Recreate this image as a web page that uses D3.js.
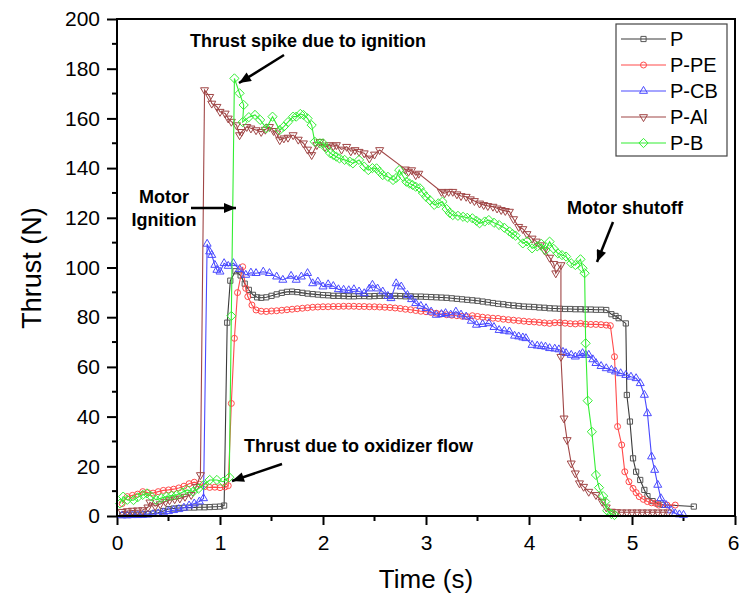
<!DOCTYPE html>
<html><head><meta charset="utf-8">
<script src="https://cdn.jsdelivr.net/npm/d3@7"></script>
<style>body{margin:0;background:#fff}svg{display:block}</style>
</head><body>
<script>
// ---------------- data ----------------
const seriesNames = ["P", "P-PE", "P-CB", "P-Al", "P-B"];

const P = [[0.05,0.4],[0.1,0.4],[0.15,0.5],[0.2,0.5],[0.25,0.6],[0.3,0.8],[0.35,1.0],[0.4,1.3],[0.45,2.0],[0.5,2.8],[0.55,3.0],[0.6,3.2],[0.65,3.3],[0.7,3.4],[0.75,3.4],[0.8,3.5],[0.85,3.5],[0.9,3.6],[0.95,3.7],[1.0,3.8],[1.04,4.2],[1.07,77.8],[1.1,94.7],[1.15,98.5],[1.2,96.8],[1.24,93.5],[1.28,91],[1.32,89],[1.36,88],[1.4,87.8],[1.45,88],[1.5,88.6],[1.55,89.2],[1.6,89.8],[1.65,90.2],[1.7,90.3],[1.75,90.1],[1.8,89.8],[1.85,89.5],[1.9,89.3],[1.95,89.1],[2.0,88.9],[2.05,88.8],[2.1,88.6],[2.15,88.6],[2.2,88.5],[2.25,88.4],[2.3,88.4],[2.35,88.5],[2.4,88.5],[2.45,88.4],[2.5,88.5],[2.55,88.6],[2.6,88.6],[2.65,88.5],[2.7,88.6],[2.75,88.5],[2.8,88.4],[2.85,88.4],[2.9,88.3],[2.95,88.3],[3.0,88.2],[3.05,88.1],[3.1,88.0],[3.15,87.9],[3.2,87.8],[3.25,87.6],[3.3,87.4],[3.35,87.2],[3.4,87.0],[3.45,86.8],[3.5,86.6],[3.55,86.3],[3.6,86.0],[3.65,85.7],[3.7,85.4],[3.75,85.2],[3.8,84.9],[3.85,84.7],[3.9,84.5],[3.95,84.3],[4.0,84.2],[4.05,84.1],[4.1,83.9],[4.15,83.8],[4.2,83.6],[4.25,83.5],[4.3,83.4],[4.35,83.3],[4.4,83.3],[4.45,83.2],[4.5,83.2],[4.55,83.1],[4.6,83.1],[4.65,83.0],[4.7,83.0],[4.75,82.9],[4.8,81.2],[4.84,80.5],[4.87,79.6],[4.94,77.5],[4.95,48.7],[4.98,38],[5.01,23.2],[5.04,17.8],[5.08,14.5],[5.12,10.5],[5.15,8],[5.2,6],[5.25,5],[5.3,4.5],[5.6,3.8]];

const P_PE = [[0.05,5],[0.1,7.8],[0.15,8.3],[0.2,8.8],[0.25,9.8],[0.3,9.4],[0.35,9.2],[0.4,9.8],[0.45,10.3],[0.5,10.5],[0.55,10.8],[0.6,11.3],[0.65,12],[0.7,13],[0.75,13.6],[0.8,12.8],[0.85,11.8],[0.9,11.5],[0.95,11.6],[1.0,11.4],[1.05,11.7],[1.08,12.2],[1.11,45.3],[1.14,71.5],[1.17,89.9],[1.22,100.3],[1.25,91.6],[1.27,88.3],[1.31,84.9],[1.35,82.9],[1.4,82.4],[1.45,82.3],[1.5,82.5],[1.55,82.6],[1.6,82.8],[1.65,83],[1.7,83.2],[1.75,83.4],[1.8,83.6],[1.85,83.8],[1.9,84],[1.95,84.1],[2.0,84.2],[2.05,84.2],[2.1,84.3],[2.15,84.3],[2.2,84.4],[2.25,84.4],[2.3,84.4],[2.35,84.3],[2.4,84.3],[2.45,84.2],[2.5,84.2],[2.55,84.1],[2.6,84.0],[2.65,83.9],[2.7,83.7],[2.75,83.5],[2.8,83.2],[2.85,83.0],[2.9,82.7],[2.95,82.4],[3.0,82.2],[3.05,81.9],[3.1,81.6],[3.15,81.3],[3.2,81.0],[3.25,80.8],[3.3,80.6],[3.35,80.4],[3.4,80.2],[3.45,80.6],[3.5,80.3],[3.55,80.0],[3.6,79.8],[3.65,79.6],[3.7,79.5],[3.75,79.2],[3.8,79.0],[3.85,78.8],[3.9,78.6],[3.95,78.4],[4.0,78.2],[4.05,78.1],[4.1,77.9],[4.15,77.7],[4.2,77.5],[4.25,77.8],[4.3,77.8],[4.35,77.6],[4.4,77.4],[4.45,77.3],[4.5,77.5],[4.55,77.2],[4.6,77.1],[4.65,77.1],[4.7,77.0],[4.75,76.8],[4.79,76.6],[4.83,64.1],[4.86,36],[4.9,28.6],[4.93,17.8],[4.97,13.8],[5.01,11.1],[5.04,9.4],[5.07,7.8],[5.11,6.7],[5.15,5.8],[5.19,5.3],[5.23,5.1],[5.26,4.4],[5.34,4.4],[5.42,4.4]];

const P_CB = [[0.05,0.2],[0.1,0.2],[0.15,0.3],[0.2,0.3],[0.25,0.4],[0.3,0.5],[0.35,0.7],[0.4,1.0],[0.45,1.4],[0.5,1.9],[0.55,2.3],[0.6,2.7],[0.65,3.3],[0.7,4.2],[0.75,5.0],[0.8,5.8],[0.84,7.1],[0.875,109.5],[0.9,106.4],[0.92,105],[0.95,101],[0.97,99],[1.0,98.3],[1.04,101.7],[1.08,100.6],[1.13,101.7],[1.19,99.3],[1.25,97],[1.3,97.9],[1.35,97.7],[1.42,98.3],[1.48,97.7],[1.55,96.3],[1.61,95],[1.69,96.6],[1.74,95],[1.79,96.3],[1.85,97.7],[1.9,93.6],[1.95,94.3],[2.0,92.3],[2.05,93.2],[2.1,92.5],[2.15,91.2],[2.2,91],[2.25,90.8],[2.3,91.2],[2.35,90.3],[2.4,89.6],[2.45,91.5],[2.48,93],[2.53,91.5],[2.58,90.3],[2.63,88.5],[2.66,87.6],[2.71,93.6],[2.76,92.3],[2.82,88.9],[2.86,87.2],[2.9,85.6],[2.95,84.5],[3.0,83.6],[3.05,82.2],[3.1,80.9],[3.15,81.2],[3.19,81.6],[3.24,81.0],[3.29,82.2],[3.34,81.0],[3.39,80.2],[3.44,78.5],[3.49,76.9],[3.55,77.2],[3.61,77.5],[3.66,76.0],[3.71,74.8],[3.76,74.5],[3.81,74.2],[3.86,72.5],[3.9,72.2],[3.94,71.8],[3.97,71.5],[4.03,68.8],[4.08,68.5],[4.12,68.3],[4.16,68.1],[4.2,67.5],[4.25,67.3],[4.29,67.0],[4.33,66.0],[4.36,65.5],[4.41,64.8],[4.45,64.1],[4.49,64.8],[4.52,65.5],[4.55,64.8],[4.58,64.8],[4.62,63],[4.65,61.5],[4.7,60.3],[4.75,59.4],[4.8,58.8],[4.84,58.1],[4.89,57.4],[4.94,56.7],[4.99,56.0],[5.04,55.4],[5.08,53.4],[5.12,48.7],[5.15,41.3],[5.19,23.9],[5.22,18.5],[5.25,12.5],[5.28,7.1],[5.33,4.4],[5.38,2.2],[5.42,1.0],[5.46,0.6],[5.5,0.4]];

const P_Al = [[0.05,1.7],[0.1,2.0],[0.15,2.2],[0.2,2.3],[0.25,2.4],[0.3,3.5],[0.32,5.5],[0.37,4.0],[0.42,4.8],[0.47,5.8],[0.51,6.4],[0.56,6.8],[0.61,7.1],[0.66,7.8],[0.72,8.5],[0.77,11.8],[0.81,16.5],[0.85,171.4],[0.9,168.7],[0.92,166],[0.97,164.7],[1.0,162.7],[1.05,162],[1.08,160],[1.11,158.7],[1.16,157.3],[1.19,153.3],[1.21,154.6],[1.26,156.6],[1.3,156],[1.35,155.3],[1.4,154.6],[1.44,155.5],[1.48,156.6],[1.52,155],[1.55,154],[1.58,151.3],[1.62,152],[1.66,152.3],[1.71,153.3],[1.76,151.5],[1.81,150],[1.85,147.5],[1.89,145.3],[1.94,149.3],[1.97,150.6],[2.02,148.5],[2.06,149.3],[2.1,148.8],[2.13,149.3],[2.18,147.5],[2.23,148.6],[2.27,146.8],[2.31,147.3],[2.35,146.6],[2.4,146],[2.45,143.9],[2.5,145.5],[2.55,147.3],[2.8,139.5],[2.83,138.6],[2.86,139.2],[2.9,137.2],[2.93,137.8],[3.15,130.5],[3.18,129.9],[3.22,130.5],[3.26,130.5],[3.3,129.5],[3.34,128.8],[3.39,128.5],[3.43,127.5],[3.47,126.8],[3.52,125.8],[3.56,125.2],[3.6,124.8],[3.65,124.5],[3.69,123.8],[3.73,123.2],[3.77,122.8],[3.81,122.5],[3.85,119.5],[3.9,116.4],[3.94,115.5],[3.98,113.5],[4.03,111.7],[4.07,110.5],[4.11,109],[4.15,107],[4.2,104],[4.24,101.5],[4.26,97.7],[4.31,101],[4.31,64.1],[4.34,39.3],[4.37,30.6],[4.41,21.2],[4.45,17.2],[4.49,13.2],[4.53,11.8],[4.58,9.8],[4.65,8.5],[4.71,5.8],[4.75,3.5],[4.8,1.8],[4.85,1.6],[4.9,1.5],[4.95,1.5],[5.0,1.5],[5.05,1.5],[5.1,1.5],[5.15,1.5],[5.2,1.5],[5.25,1.5],[5.3,1.5],[5.35,1.5]];

const P_B = [[0.03,5],[0.06,7.8],[0.1,6.5],[0.16,6.4],[0.2,7.5],[0.25,8.5],[0.29,9.1],[0.33,8.0],[0.38,6.5],[0.43,7.2],[0.48,7.8],[0.53,8.2],[0.58,8.5],[0.63,9.5],[0.68,10.5],[0.74,9.8],[0.79,11],[0.84,12.5],[0.9,14.5],[0.97,14.5],[1.03,13.8],[1.09,15.6],[1.11,80.5],[1.14,176.1],[1.19,170.1],[1.23,165.4],[1.22,158.5],[1.28,160.5],[1.34,161.4],[1.39,159.4],[1.45,156],[1.51,160.7],[1.58,155.3],[1.62,156.7],[1.66,158.5],[1.71,160.7],[1.74,160.7],[1.78,161.8],[1.81,161.4],[1.85,160],[1.89,157.3],[1.92,150.6],[1.97,150],[2.0,150],[2.03,148],[2.07,146],[2.1,145.3],[2.13,144.6],[2.16,143.9],[2.21,143.3],[2.26,142.6],[2.29,141.9],[2.35,143.3],[2.4,140.6],[2.44,139.2],[2.48,140],[2.52,139.9],[2.55,138.5],[2.58,137.2],[2.63,136.5],[2.68,135.2],[2.71,136],[2.74,139.2],[2.78,136.5],[2.81,134.5],[2.84,133.8],[2.87,133.2],[2.9,132.5],[2.94,131.9],[2.97,130],[3.0,128.5],[3.04,127],[3.08,125.2],[3.12,125.8],[3.16,126.5],[3.2,123.5],[3.23,122],[3.26,121.1],[3.31,120.8],[3.36,120.4],[3.4,120],[3.45,119.8],[3.49,118.8],[3.52,117.8],[3.57,118.5],[3.61,119.1],[3.66,118],[3.71,117.1],[3.76,116],[3.81,114.5],[3.84,113.5],[3.87,112.8],[3.94,109.7],[3.98,110.5],[4.03,107.7],[4.08,108.5],[4.12,109.5],[4.16,107],[4.2,110.4],[4.24,107.5],[4.28,105.7],[4.32,105],[4.36,104.4],[4.41,101.7],[4.45,101],[4.5,103.3],[4.52,99.7],[4.54,97.7],[4.55,69.5],[4.57,46.4],[4.61,33.9],[4.65,16.5],[4.68,11.4],[4.72,8],[4.74,5.8],[4.76,2.1],[4.8,0.8],[4.83,0.4]];

const xTickValues = [0, 1, 2, 3, 4, 5, 6];
const yTickValues = [0, 20, 40, 60, 80, 100, 120, 140, 160, 180, 200];
const xLabel = "Time (s)";
const yLabel = "Thrust (N)";
const noteTexts = ["Thrust spike due to ignition", "Motor", "Ignition", "Motor shutoff", "Thrust due to oxidizer flow"];

// ---------------- drawing ----------------
const W = 739, H = 599;
const L = 117, R = 735, T = 19, B = 516;
const svg = d3.select("body").append("svg").attr("width", W).attr("height", H)
  .style("font-family", "'Liberation Sans', Arial, sans-serif");

const x = d3.scaleLinear().domain([0, 6]).range([L, R]);
const y = d3.scaleLinear().domain([0, 200]).range([B, T]);

const series = [
  {name: seriesNames[0], data: P,    color: "#3a3a3a", mcolor: "#555", sym: "square"},
  {name: seriesNames[1], data: P_PE, color: "#ff4a4a", mcolor: "#ff4a4a", sym: "circle"},
  {name: seriesNames[2], data: P_CB, color: "#4a4aff", mcolor: "#4a4aff", sym: "triangle"},
  {name: seriesNames[3], data: P_Al, color: "#a04646", mcolor: "#a04646", sym: "tridown"},
  {name: seriesNames[4], data: P_B,  color: "#33ee33", mcolor: "#33ee33", sym: "diamond"}
];

const symPath = {
  square: "M-2.6,-2.6H2.6V2.6H-2.6Z",
  triangle: "M0,-4.6L4,2.3L-4,2.3Z",
  tridown: "M0,4.6L4,-2.3L-4,-2.3Z",
  diamond: "M0,-4.6L4.6,0L0,4.6L-4.6,0Z"
};
function drawMarker(g, sym, cx, cy, color) {
  if (sym === "circle") {
    g.append("circle").attr("cx", cx).attr("cy", cy).attr("r", 3)
      .attr("fill", "none").attr("stroke", color).attr("stroke-width", 1);
  } else {
    g.append("path").attr("d", symPath[sym]).attr("transform", `translate(${cx},${cy})`)
      .attr("fill", "none").attr("stroke", color).attr("stroke-width", 1);
  }
}

// axes
const yAxis = d3.axisLeft(y).tickValues(yTickValues).tickSize(10).tickPadding(7).tickSizeOuter(0);
const gy = svg.append("g").attr("transform", `translate(${L},0)`).call(yAxis);
const xAxis = d3.axisBottom(x).tickValues(xTickValues).tickSize(9).tickPadding(10).tickSizeOuter(0).tickFormat(d3.format("d"));
const gx = svg.append("g").attr("transform", `translate(0,${B})`).call(xAxis);
[gx, gy].forEach(g => {
  g.select(".domain").remove();
  g.selectAll(".tick line").attr("stroke", "#000").attr("stroke-width", 2);
  g.selectAll(".tick text").attr("fill", "#000").style("font-size", "21px")
   .style("font-family", "'Liberation Sans', Arial, sans-serif");
});
// keep the last x label inside the picture
gx.selectAll(".tick text").filter(d => d === 6).attr("text-anchor", "end").attr("x", 4);
// minor ticks
const yMinor = d3.range(10, 200, 20);
svg.append("g").selectAll("line").data(yMinor).join("line")
  .attr("x1", L - 5).attr("x2", L).attr("y1", d => y(d)).attr("y2", d => y(d))
  .attr("stroke", "#000").attr("stroke-width", 2);
const xMinor = d3.range(0.5, 6, 1);
svg.append("g").selectAll("line").data(xMinor).join("line")
  .attr("x1", d => x(d)).attr("x2", d => x(d)).attr("y1", B).attr("y2", B + 5)
  .attr("stroke", "#000").attr("stroke-width", 2);

// series
const line = d3.line().x(d => x(d[0])).y(d => y(d[1]));
series.forEach(s => {
  const g = svg.append("g");
  g.append("path").datum(s.data).attr("d", line).attr("fill", "none")
    .attr("stroke", s.color).attr("stroke-width", 1.1);
  s.data.forEach(d => drawMarker(g, s.sym, x(d[0]), y(d[1]), s.mcolor));
});

// frame
svg.append("rect").attr("x", L).attr("y", T).attr("width", R - L).attr("height", B - T)
  .attr("fill", "none").attr("stroke", "#000").attr("stroke-width", 2);

// axis titles
svg.append("text").attr("x", 426).attr("y", 588).attr("text-anchor", "middle")
  .style("font-size", "26px").text(xLabel);
svg.append("text").attr("transform", "translate(41,268) rotate(-90)").attr("text-anchor", "middle")
  .style("font-size", "27px").text(yLabel);

// legend
const lg = svg.append("g");
lg.append("rect").attr("x", 616).attr("y", 24).attr("width", 111).attr("height", 132)
  .attr("fill", "#fff").attr("stroke", "#444").attr("stroke-width", 1.2);
series.forEach((s, i) => {
  const ly = 39 + i * 26;
  lg.append("line").attr("x1", 621).attr("x2", 666).attr("y1", ly).attr("y2", ly)
    .attr("stroke", s.color).attr("stroke-width", 1.2);
  drawMarker(lg, s.sym, 643.5, ly, s.mcolor);
  lg.append("text").attr("x", 670).attr("y", ly).attr("dy", "0.36em")
    .style("font-size", "20px").text(s.name);
});

// annotations
const defs = svg.append("defs");
defs.append("marker").attr("id", "ah").attr("markerUnits", "userSpaceOnUse")
  .attr("viewBox", "0 0 12 10").attr("refX", 12).attr("refY", 5)
  .attr("markerWidth", 13).attr("markerHeight", 10).attr("orient", "auto")
  .append("path").attr("d", "M0,0L12,5L0,10Z").attr("fill", "#000");
function arrow(x1, y1, x2, y2) {
  svg.append("line").attr("x1", x1).attr("y1", y1).attr("x2", x2).attr("y2", y2)
    .attr("stroke", "#000").attr("stroke-width", 2.5).attr("marker-end", "url(#ah)");
}
const nt = (xx, yy, t, anchor) => svg.append("text").attr("x", xx).attr("y", yy)
  .attr("text-anchor", anchor || "start").style("font-size", "18px").style("font-weight", "bold").text(t);
nt(190, 47, noteTexts[0]);
nt(164, 203, noteTexts[1], "middle");
nt(164, 226, noteTexts[2], "middle");
nt(567, 214, noteTexts[3]);
nt(244, 452, noteTexts[4]);
arrow(284, 55, 239, 83);
arrow(191, 208, 236, 208);
arrow(613, 222, 597, 262);
arrow(282, 464, 232, 481);
</script>
</body></html>
